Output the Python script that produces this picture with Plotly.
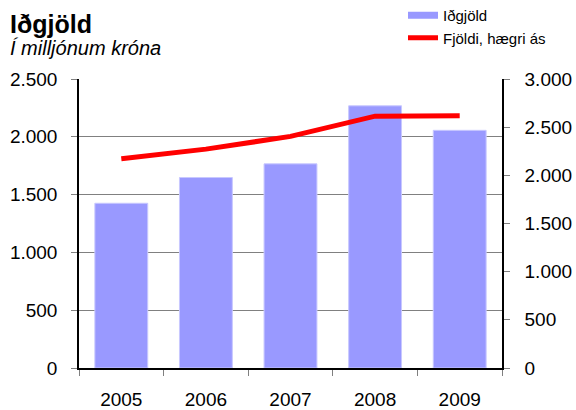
import plotly.graph_objects as go

years = ["2005", "2006", "2007", "2008", "2009"]
idgjold = [1425, 1648, 1766, 2268, 2056]          # left axis, millions ISK
fjoldi = [2173, 2272, 2404, 2614, 2618]           # right axis
left_ticks = [0, 500, 1000, 1500, 2000, 2500]
left_labels = ["0", "500", "1.000", "1.500", "2.000", "2.500"]
right_ticks = [0, 500, 1000, 1500, 2000, 2500, 3000]
right_labels = ["0", "500", "1.000", "1.500", "2.000", "2.500", "3.000"]

FONT = "Liberation Sans, Arial, sans-serif"
BAR_COLOR = "#9999FF"
LINE_COLOR = "#FF0000"

W, H = 576, 410
L, R, T, B = 79, 74, 79, 42
plot_h = H - T - B
plot_w = W - L - R

fig = go.Figure()
fig.add_trace(go.Bar(x=years, y=idgjold, marker=dict(color=BAR_COLOR, line=dict(color="#C8C8FF", width=1)),
                     name="Iðgjöld", showlegend=False, yaxis="y"))
fig.add_trace(go.Scatter(x=years, y=fjoldi, mode="lines", line=dict(color=LINE_COLOR, width=5),
                         name="Fjöldi, hægri ás", showlegend=False, yaxis="y2"))
# legend entries
fig.add_trace(go.Scatter(x=[None], y=[None], mode="lines", line=dict(color=BAR_COLOR, width=7),
                         name="Iðgjöld", showlegend=True))
fig.add_trace(go.Scatter(x=[None], y=[None], mode="lines", line=dict(color=LINE_COLOR, width=5),
                         name="Fjöldi, hægri ás", showlegend=True, yaxis="y2"))

fig.update_layout(
    width=W, height=H,
    margin=dict(l=L, r=R, t=T, b=B, autoexpand=False),
    paper_bgcolor="white", plot_bgcolor="white",
    font=dict(family=FONT, color="black", size=19),
    bargap=0.375,
    xaxis=dict(type="category", showline=True, linecolor="black", linewidth=1.5,
               ticks="outside", tickson="boundaries", ticklen=6, tickcolor="#808080",
               tickfont=dict(size=19), showgrid=False, ticklabelstandoff=13, automargin=False),
    yaxis=dict(range=[0, 2500], tickvals=left_ticks, ticktext=left_labels,
               showline=True, linecolor="black", linewidth=1.5,
               showgrid=True, gridcolor="#808080", gridwidth=1,
               ticks="outside", ticklen=6, tickcolor="#808080",
               tickfont=dict(size=19), ticklabelstandoff=10, zeroline=False, automargin=False),
    yaxis2=dict(range=[0, 3000], tickvals=right_ticks, ticktext=right_labels,
                overlaying="y", side="right", showline=True, linecolor="black", linewidth=1.5,
                showgrid=False, ticks="outside", ticklen=6, tickcolor="#808080",
                tickfont=dict(size=19), ticklabelstandoff=11, zeroline=False, automargin=False),
    showlegend=True,
    legend=dict(x=(403 - L) / plot_w, xanchor="left",
                y=(H - B + 1) / plot_h, yanchor="top",
                font=dict(size=15, family=FONT), bgcolor="rgba(0,0,0,0)",
                tracegroupgap=0, itemwidth=30),
    annotations=[
        dict(text="<b>Iðgjöld</b>", xref="paper", yref="paper",
             x=-(L - 8) / plot_w, y=(H - B - 8) / plot_h,
             xanchor="left", yanchor="top", showarrow=False,
             font=dict(size=25, family=FONT, color="black")),
        dict(text="<i>Í milljónum króna</i>", xref="paper", yref="paper",
             x=-(L - 8) / plot_w, y=(H - B - 35) / plot_h,
             xanchor="left", yanchor="top", showarrow=False,
             font=dict(size=20, family=FONT, color="black")),
    ],
)

fig.write_html("out.html", config={"displayModeBar": False},
               post_script="document.body.style.margin='0';")
